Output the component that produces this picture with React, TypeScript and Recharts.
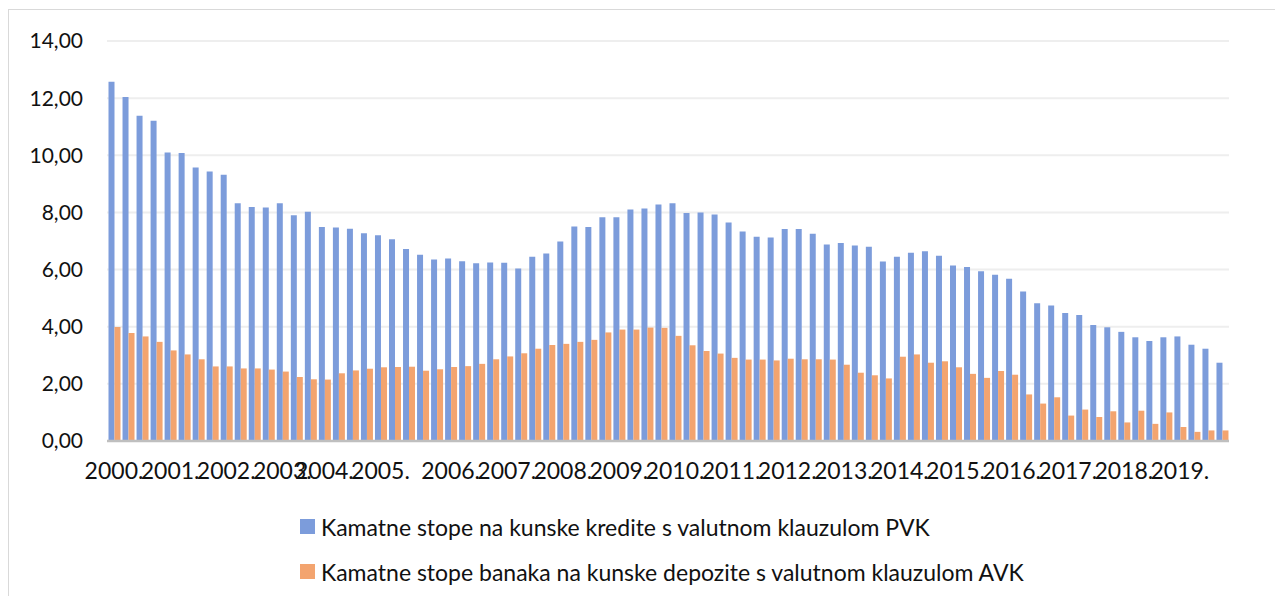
import { BarChart, Bar, XAxis, YAxis, CartesianGrid, Legend } from 'recharts';

// ============================================================================
// Data (quarterly, 2000 – 2019)
// ============================================================================

const YEAR_LABELS = [
  '2000.', '2001.', '2002.', '2003.', '2004.', '2005.', '2006.', '2007.', '2008.', '2009.',
  '2010.', '2011.', '2012.', '2013.', '2014.', '2015.', '2016.', '2017.', '2018.', '2019.',
];

// category index where each year label sits on the axis
const YEAR_LABEL_INDEX = [0, 4, 8, 12, 15, 19, 24, 28, 32, 36, 40, 44, 48, 52, 56, 60, 64, 68, 72, 76];

const PVK = [
  12.57, 12.04, 11.38, 11.21, 10.1, 10.08, 9.57, 9.43, 9.32, 8.32,
  8.19, 8.17, 8.32, 7.9, 8.02, 7.49, 7.47, 7.43, 7.27, 7.2,
  7.06, 6.72, 6.52, 6.35, 6.39, 6.29, 6.22, 6.25, 6.24, 6.04,
  6.45, 6.56, 6.98, 7.51, 7.49, 7.83, 7.83, 8.1, 8.14, 8.28,
  8.32, 7.98, 8.0, 7.93, 7.65, 7.33, 7.15, 7.12, 7.42, 7.42,
  7.25, 6.88, 6.93, 6.84, 6.8, 6.28, 6.45, 6.59, 6.64, 6.48,
  6.14, 6.09, 5.94, 5.82, 5.68, 5.23, 4.82, 4.74, 4.48, 4.41,
  4.06, 3.98, 3.82, 3.63, 3.5, 3.63, 3.66, 3.37, 3.23, 2.74,
];

const AVK = [
  3.99, 3.78, 3.66, 3.47, 3.17, 3.03, 2.86, 2.61, 2.61, 2.54,
  2.54, 2.5, 2.43, 2.24, 2.16, 2.15, 2.37, 2.47, 2.53, 2.58,
  2.59, 2.6, 2.46, 2.51, 2.59, 2.62, 2.7, 2.86, 2.96, 3.07,
  3.23, 3.36, 3.4, 3.47, 3.54, 3.8, 3.9, 3.9, 3.97, 3.96,
  3.68, 3.35, 3.15, 3.06, 2.91, 2.85, 2.85, 2.82, 2.88, 2.86,
  2.86, 2.85, 2.67, 2.39, 2.3, 2.19, 2.95, 3.03, 2.74, 2.79,
  2.58, 2.35, 2.21, 2.45, 2.32, 1.63, 1.31, 1.53, 0.89, 1.1,
  0.84, 1.04, 0.65, 1.06, 0.6, 1.0, 0.49, 0.32, 0.37, 0.37,
];

const Y_TICKS = [0, 2, 4, 6, 8, 10, 12, 14];

const SERIES = [
  { key: 'pvk', name: 'Kamatne stope na kunske kredite s valutnom klauzulom PVK', color: '#7C9CDB' },
  { key: 'avk', name: 'Kamatne stope banaka na kunske depozite s valutnom klauzulom AVK', color: '#F3A46F' },
];

const data = PVK.map((v, i) => {
  const yi = YEAR_LABEL_INDEX.indexOf(i);
  return { label: yi >= 0 ? YEAR_LABELS[yi] : '', pvk: v, avk: AVK[i] };
});

const fmt = (v: number) => v.toFixed(2).replace('.', ',');

// ============================================================================
// Legend
// ============================================================================

function LegendRows() {
  return (
    <div style={{ height: 110, paddingLeft: 291, paddingTop: 14, boxSizing: 'border-box' }}>
      {SERIES.map((s) => (
        <div key={s.key} style={{ display: 'flex', alignItems: 'center', height: 45 }}>
          <span style={{ width: 15, height: 15, background: s.color, display: 'inline-block', marginRight: 6 }} />
          <span style={{ fontSize: 23, color: '#111' }}>{s.name}</span>
        </div>
      ))}
    </div>
  );
}

// ============================================================================
// Component
// ============================================================================

export default function App() {
  return (
    <div
      style={{
        width: 1268,
        height: 600,
        border: '1px solid #d9d9d9',
        marginTop: 1,
        fontFamily: 'Lato, "Noto Sans", sans-serif',
        background: '#fff',
      }}
    >
      <BarChart
        width={1268}
        height={600}
        data={data}
        margin={{ top: 31, right: 48, left: 0, bottom: 10 }}
        barCategoryGap={1.5}
        barGap={0}
      >
        <CartesianGrid vertical={false} stroke="#eeeeee" strokeWidth={2} />
        <XAxis
          dataKey="label"
          interval={0}
          height={49}
          tickLine={false}
          tickSize={6}
          tickMargin={16}
          axisLine={{ stroke: '#bfbfbf', strokeWidth: 2.5 }}
          tick={{ fontSize: 23, fill: '#111' }}
        />
        <YAxis
          width={98}
          domain={[0, 14]}
          ticks={Y_TICKS}
          tickFormatter={fmt}
          axisLine={false}
          tickLine={false}
          tickSize={6}
          tickMargin={18}
          tick={{ fontSize: 21, fill: '#111' }}
        />
        <Legend verticalAlign="bottom" content={<LegendRows />} wrapperStyle={{ left: 0, width: 1268 }} />
        {SERIES.map((s) => (
          <Bar key={s.key} dataKey={s.key} name={s.name} fill={s.color} isAnimationActive={false} />
        ))}
      </BarChart>
    </div>
  );
}
